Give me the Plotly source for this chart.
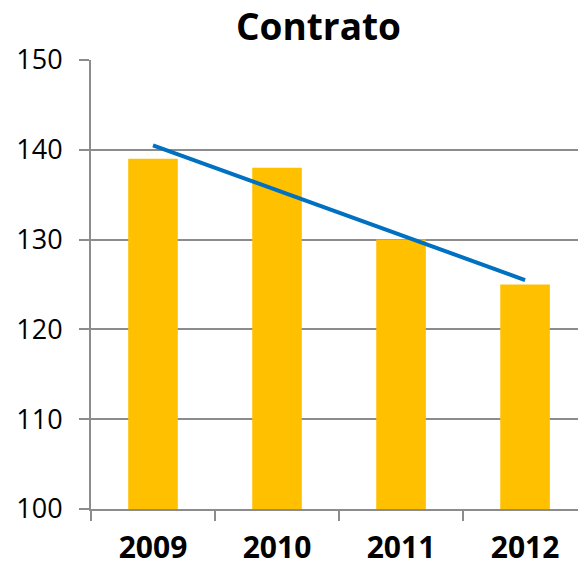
import plotly.graph_objects as go

# Data
years = ["2009", "2010", "2011", "2012"]
contrato = [139, 138, 130, 125]
tendencia = [140.5, 135.5, 130.5, 125.5]  # linear trend line

y_ticks = [100, 110, 120, 130, 140, 150]

GOLD = "#FFC000"
BLUE = "#0070C0"
GREY = "#8C8C8C"

W, H = 578, 567

fig = go.Figure()

fig.add_trace(go.Bar(
    x=years, y=contrato,
    marker=dict(color=GOLD, line=dict(width=0)),
    width=0.4,
    hoverinfo="skip",
    showlegend=False,
))

fig.add_trace(go.Scatter(
    x=years, y=tendencia,
    mode="lines",
    line=dict(color=BLUE, width=4),
    hoverinfo="skip",
    showlegend=False,
))

fig.update_layout(
    width=W,
    height=H,
    margin=dict(l=91, r=0, t=60, b=58),
    paper_bgcolor="white",
    plot_bgcolor="white",
    title=dict(
        text="<b>Contrato</b>",
        x=318.5 / W, xanchor="center", xref="container",
        y=1 - 27 / H, yanchor="middle", yref="container",
        font=dict(family="Open Sans", size=37, color="black"),
    ),
    xaxis=dict(
        type="category",
        range=[-0.5, 3.427],
        automargin=False,
        showgrid=False,
        showline=True, linecolor=GREY, linewidth=2,
        ticks="outside", tickson="boundaries", ticklen=10,
        tickcolor=GREY, tickwidth=2,
        tickfont=dict(family="Open Sans", size=30, color="black", weight="bold"),
        ticklabelstandoff=11,
    ),
    yaxis=dict(
        range=[100, 150],
        tickvals=y_ticks,
        automargin=False,
        showgrid=True, gridcolor=GREY, gridwidth=2,
        showline=True, linecolor=GREY, linewidth=2,
        ticks="outside", ticklen=10, tickcolor=GREY, tickwidth=2,
        tickfont=dict(family="Open Sans", size=27, color="black"),
        ticklabelstandoff=11,
        zeroline=False,
    ),
    bargap=0.6,
)

# drop the default page margin so the figure fills the window exactly
fig.write_html(
    "out.html",
    config={"displayModeBar": False},
    post_script="document.body.style.margin='0';",
)
